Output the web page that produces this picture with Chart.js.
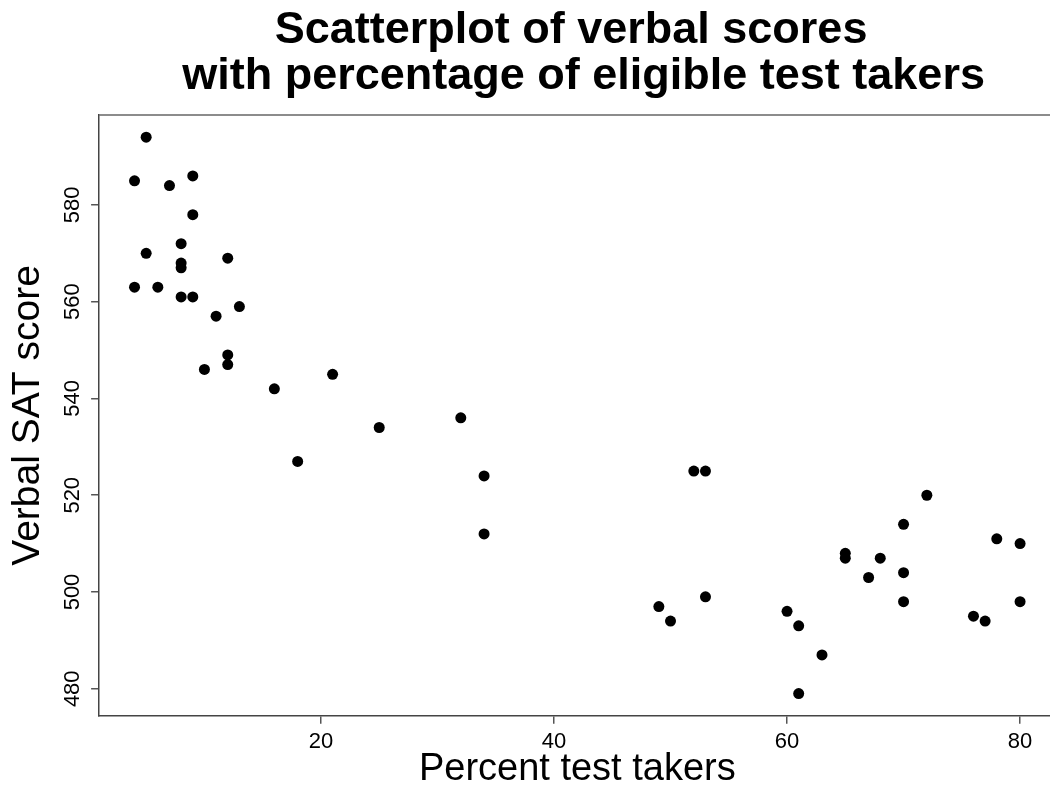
<!DOCTYPE html>
<html>
<head>
<meta charset="utf-8">
<script src="https://cdn.jsdelivr.net/npm/chart.js@4.4.1/dist/chart.umd.min.js"></script>
<style>
html, body { margin: 0; padding: 0; overflow: hidden; background: #fff; }
#wrap { width: 1050px; height: 787px; overflow: hidden; }
</style>
</head>
<body>
<div id="wrap"><canvas id="plot" width="1061" height="787"></canvas></div>
<script>
// percent of eligible students taking the test, and mean verbal score
var percentTakers = [5, 4, 7, 9, 9, 8, 5, 12, 8, 8, 4, 6, 8, 9, 13, 11, 12, 12, 10, 21,
    16, 18, 25, 32, 34, 34, 52, 53, 72, 70, 78, 80, 65, 65, 68, 67, 70, 53, 49, 50,
    60, 61, 63, 61, 70, 76, 77, 80];
var verbalScores = [594, 585, 584, 586, 578, 572, 570, 569, 568, 567, 563, 563, 561, 561, 559, 557, 549, 547, 546, 545,
    542, 527, 534, 536, 524, 512, 525, 525, 520, 514, 511, 510, 508, 507, 507, 503, 504, 499, 497, 494,
    496, 493, 487, 479, 498, 495, 494, 498];
var xTicks = [20, 40, 60, 80];
var yTicks = [480, 500, 520, 540, 560, 580];
var titleLines = ["Scatterplot of verbal scores ", " with percentage of eligible test takers"];
var xLabel = "Percent test takers";
var yLabel = "Verbal SAT score";

Chart.defaults.font.family = '"Liberation Sans", Arial, sans-serif';
Chart.defaults.color = "#000";

// R style box: top line and rotated y tick labels
var framePlugin = {
    id: "frame",
    afterDraw: function(chart) {
        var ctx = chart.ctx;
        var area = chart.chartArea;
        var ys = chart.scales.y;
        ctx.save();
        ctx.strokeStyle = "#666";
        ctx.lineWidth = 1.5;
        ctx.beginPath();
        ctx.moveTo(area.left, area.top);
        ctx.lineTo(area.right, area.top);
        ctx.stroke();
        ctx.font = '22px "Liberation Sans", Arial, sans-serif';
        ctx.fillStyle = "#000";
        ctx.textAlign = "center";
        ctx.textBaseline = "alphabetic";
        var lx = ys.right - ys.options.grid.tickLength - 12;
        yTicks.forEach(function(v) {
            ctx.save();
            ctx.translate(lx, ys.getPixelForValue(v));
            ctx.rotate(-Math.PI / 2);
            ctx.fillText(String(v), 0, 0);
            ctx.restore();
        });
        ctx.restore();
    }
};

var chart = new Chart(document.getElementById("plot"), {
    type: "scatter",
    data: {
        datasets: [{
            data: percentTakers.map(function(x, i) {
                return {x: x, y: verbalScores[i]};
            }),
            backgroundColor: "#000",
            borderWidth: 0,
            pointRadius: 5.5,
            hoverRadius: 5.5,
        }]
    },
    options: {
        responsive: false,
        devicePixelRatio: 1,
        animation: false,
        layout: {padding: 0},
        scales: {
            x: {
                type: "linear",
                min: 0.96,
                max: 83.04,
                afterBuildTicks: function(scale) {
                    scale.ticks = xTicks.map(function(v) { return {value: v}; });
                },
                grid: {drawOnChartArea: false, drawTicks: true, tickLength: 8, color: "#555", lineWidth: 1.5},
                border: {display: true, color: "#444", width: 1.5},
                ticks: {
                    font: {size: 22, lineHeight: 1},
                    color: "#000",
                    padding: 7,
                    maxRotation: 0,
                    autoSkip: false,
                },
                title: {
                    display: true,
                    text: xLabel,
                    color: "#000",
                    font: {size: 38, lineHeight: 0.53},
                    padding: {top: 0, bottom: 7},
                }
            },
            y: {
                type: "linear",
                min: 474.4,
                max: 598.6,
                afterBuildTicks: function(scale) {
                    scale.ticks = yTicks.map(function(v) { return {value: v}; });
                },
                grid: {drawOnChartArea: false, drawTicks: true, tickLength: 8, color: "#555", lineWidth: 1.5},
                border: {display: true, color: "#444", width: 1.5},
                ticks: {display: false},
                title: {
                    display: true,
                    text: yLabel,
                    color: "#000",
                    font: {size: 39, lineHeight: 0.9},
                    padding: {top: 11, bottom: 45},
                }
            }
        },
        plugins: {
            legend: {display: false},
            tooltip: {enabled: false},
            title: {
                display: true,
                text: titleLines,
                fullSize: false,
                color: "#000",
                font: {size: 45, weight: "bold", lineHeight: 1.033},
                padding: {top: 7, bottom: 15},
            }
        }
    },
    plugins: [framePlugin]
});
</script>
</body>
</html>
